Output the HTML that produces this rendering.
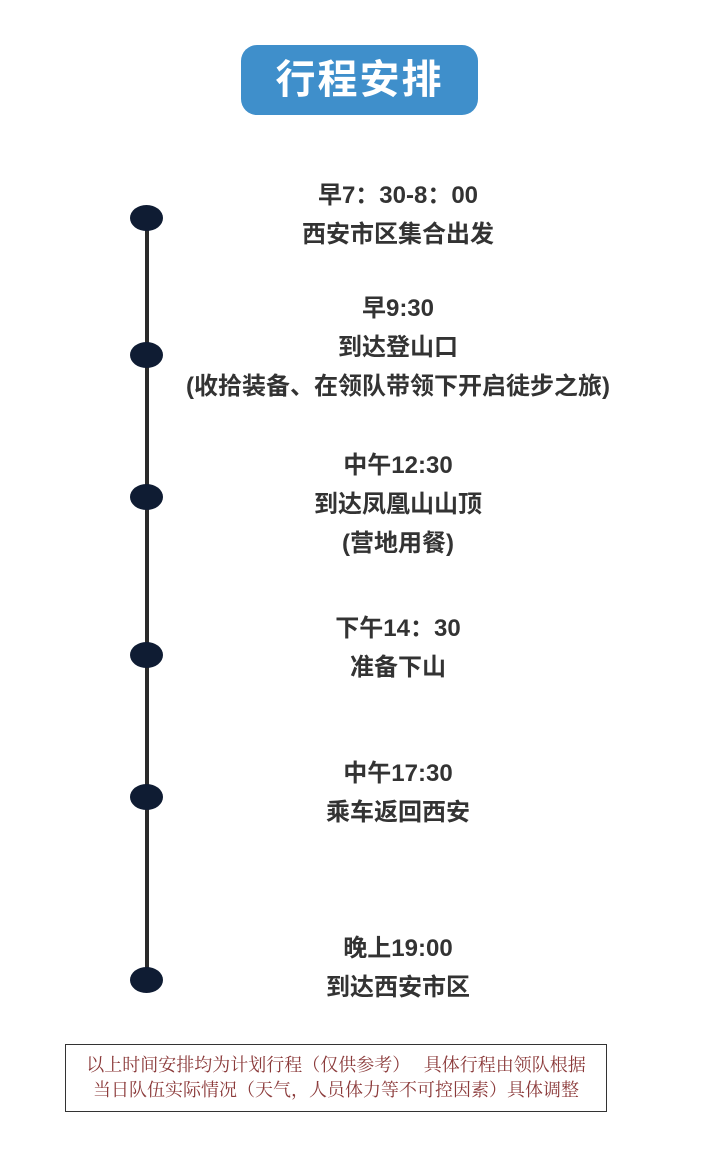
<!DOCTYPE html>
<html><head><meta charset="utf-8"><style>
body{margin:0;width:702px;height:1170px;background:#fff;position:relative;overflow:hidden;font-family:"Liberation Sans","Noto Sans CJK SC",sans-serif}
.title{position:absolute;left:241px;top:45px;width:237px;height:70px;background:#3f8fcb;border-radius:16px;color:#fff;font-size:40px;font-weight:bold;line-height:70px;text-align:center;letter-spacing:2px}
.line{position:absolute;left:145px;top:218px;width:4px;height:762px;background:#2a2a2a}
.dot{position:absolute;width:33px;height:26px;border-radius:50%;background:#0f1c33;left:130px}
.t{position:absolute;left:148px;width:500px;text-align:center;font-size:24px;font-weight:bold;color:#333;line-height:39px;white-space:nowrap}
.note{position:absolute;left:65px;top:1044px;width:542px;height:68px;border:1.5px solid #333;color:#8b3a3a;font-family:"Liberation Serif","Noto Serif CJK SC",serif;font-size:18px;line-height:25px;text-align:center;padding-top:8px;box-sizing:border-box;white-space:nowrap}
</style></head><body>
<div class="title">行程安排</div>
<div class="line"></div>
<div class="dot" style="top:205px"></div>
<div class="dot" style="top:342px"></div>
<div class="dot" style="top:484px"></div>
<div class="dot" style="top:642px"></div>
<div class="dot" style="top:784px"></div>
<div class="dot" style="top:967px"></div>
<div class="t" style="top:176px">早7：30-8：00<br>西安市区集合出发</div>
<div class="t" style="top:289px">早9:30<br>到达登山口<br>(收拾装备、在领队带领下开启徒步之旅)</div>
<div class="t" style="top:446px">中午12:30<br>到达凤凰山山顶<br>(营地用餐)</div>
<div class="t" style="top:609px">下午14：30<br>准备下山</div>
<div class="t" style="top:754px">中午17:30<br>乘车返回西安</div>
<div class="t" style="top:929px">晚上19:00<br>到达西安市区</div>
<div class="note">以上时间安排均为计划行程（仅供参考）&nbsp;&nbsp;&nbsp;具体行程由领队根据<br>当日队伍实际情况（天气，人员体力等不可控因素）具体调整</div>
</body></html>
